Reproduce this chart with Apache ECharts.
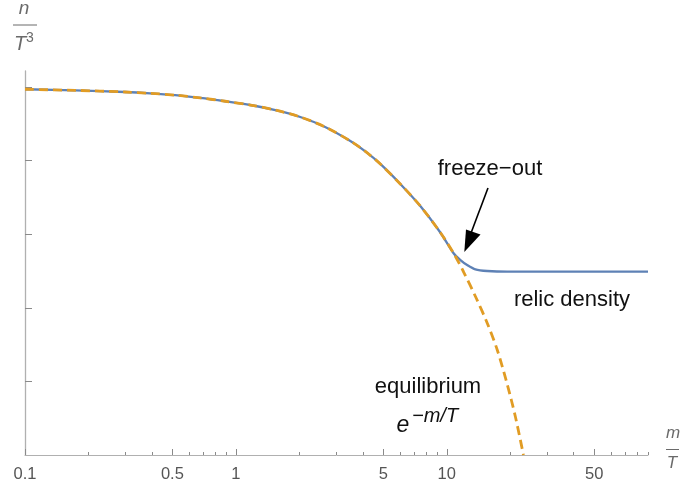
<!DOCTYPE html>
<html>
<head>
<meta charset="utf-8">
<script src="https://cdn.jsdelivr.net/npm/echarts@6/dist/echarts.min.js"></script>
<style>
    html, body { margin: 0; padding: 0; background: #fff; }
    #chart { width: 681px; height: 485px; }
</style>
</head>
<body>
<div id="chart"></div>
<script>
// m/T 取值（对数横轴）
var xEquil = [0.1, 0.173, 0.298, 0.392, 0.515, 0.677, 0.89, 1.17, 1.54, 2.02, 2.65, 3.49, 4.11, 4.84, 6.02, 7.49, 9.32, 10.75, 11.99, 13.82, 15.58, 17.39, 19.39, 21.17, 23.1];
// 平衡分布 n/T^3（纵轴为对数单位）
var yEquil = [4.969, 4.954, 4.932, 4.914, 4.889, 4.852, 4.806, 4.755, 4.685, 4.592, 4.457, 4.266, 4.124, 3.954, 3.682, 3.383, 3.023, 2.745, 2.493, 2.126, 1.787, 1.42, 0.951, 0.516, 0.0];
// 实际数密度（冻结后为残余密度）
var xRelic = [0.1, 0.173, 0.298, 0.392, 0.515, 0.677, 0.89, 1.17, 1.54, 2.02, 2.65, 3.49, 4.11, 4.84, 6.02, 7.49, 9.32, 10.75, 11.61, 12.49, 13.67, 15.54, 19.33, 30, 50, 90];
var yRelic = [4.969, 4.954, 4.932, 4.914, 4.889, 4.852, 4.806, 4.755, 4.685, 4.592, 4.457, 4.266, 4.124, 3.954, 3.682, 3.383, 3.023, 2.745, 2.649, 2.582, 2.523, 2.5, 2.49, 2.49, 2.49, 2.49];
// 刻度
var xMajorTicks = [0.1, 0.5, 1, 5, 10, 50];
var xMinorTicks = [0.2, 0.3, 0.4, 0.6, 0.7, 0.8, 0.9, 2, 3, 4, 6, 7, 8, 9, 20, 30, 40, 60, 70, 80, 90];
var yTicks = [1, 2, 3, 4, 5];

var FONT = "'Liberation Sans', Arial, sans-serif";

function pairs(xs, ys) {
    var out = [];
    for (var i = 0; i < xs.length; i++) {
        out.push([xs[i], ys[i]]);
    }
    return out;
}

var myChart = echarts.init(document.getElementById('chart'), null, { renderer: 'canvas' });

var xBase = {
    type: 'log',
    logBase: 10,
    min: 0.1,
    max: 90,
    position: 'bottom',
    splitLine: { show: false },
    minorTick: { show: false }
};

option = {
    backgroundColor: '#fff',
    animation: false,
    grid: { left: 25, right: 33, top: 71, bottom: 30 },
    xAxis: [
        echarts.util.extend({
            axisLine: { show: true, lineStyle: { color: '#b0b0b0', width: 1 } },
            axisTick: {
                show: true, inside: true, length: 6,
                customValues: xMajorTicks,
                lineStyle: { color: '#8a8a8a', width: 1 }
            },
            axisLabel: {
                show: true,
                customValues: xMajorTicks,
                margin: 11,
                color: '#555',
                fontSize: 16.5,
                fontFamily: FONT,
                formatter: function (v) { return String(v); }
            }
        }, xBase),
        echarts.util.extend({
            axisLine: { show: false },
            axisTick: {
                show: true, inside: true, length: 3,
                customValues: xMinorTicks,
                lineStyle: { color: '#8a8a8a', width: 1 }
            },
            axisLabel: { show: false }
        }, xBase)
    ],
    yAxis: [{
        type: 'value',
        min: 0,
        max: 5.217,
        splitLine: { show: false },
        axisLine: { show: true, lineStyle: { color: '#b0b0b0', width: 1.3 } },
        axisTick: {
            show: true, inside: true, length: 7,
            customValues: yTicks,
            lineStyle: { color: '#8a8a8a', width: 1 }
        },
        axisLabel: { show: false }
    }],
    series: [{
        name: 'relic',
        type: 'line',
        xAxisIndex: 0,
        data: pairs(xRelic, yRelic),
        smooth: 0.3,
        showSymbol: false,
        symbol: 'none',
        lineStyle: { color: '#5e81b5', width: 2.3 }
    }, {
        name: 'equilibrium',
        type: 'line',
        xAxisIndex: 0,
        data: pairs(xEquil, yEquil),
        smooth: 0.3,
        showSymbol: false,
        symbol: 'none',
        lineStyle: { color: '#e19c24', width: 2.8, type: [9, 5] }
    }],
    graphic: [
        // 纵轴标题 n / T^3
        { type: 'text', x: 24, y: 9, style: { text: 'n', font: 'italic 19px ' + FONT, fill: '#6a6a6a', align: 'center', verticalAlign: 'middle' } },
        { type: 'line', shape: { x1: 13, y1: 25, x2: 37, y2: 25 }, style: { stroke: '#6a6a6a', lineWidth: 1 } },
        { type: 'text', x: 20, y: 44, style: { text: 'T', font: 'italic 20px ' + FONT, fill: '#6a6a6a', align: 'center', verticalAlign: 'middle' } },
        { type: 'text', x: 30, y: 38, style: { text: '3', font: '14px ' + FONT, fill: '#6a6a6a', align: 'center', verticalAlign: 'middle' } },
        // 横轴标题 m / T
        { type: 'text', x: 673, y: 433, style: { text: 'm', font: 'italic 17px ' + FONT, fill: '#6a6a6a', align: 'center', verticalAlign: 'middle' } },
        { type: 'line', shape: { x1: 666, y1: 449.5, x2: 679, y2: 449.5 }, style: { stroke: '#6a6a6a', lineWidth: 1 } },
        { type: 'text', x: 672, y: 463, style: { text: 'T', font: 'italic 17px ' + FONT, fill: '#6a6a6a', align: 'center', verticalAlign: 'middle' } },
        // 注释文字
        { type: 'text', x: 490, y: 169, style: { text: 'freeze\u2212out', font: '22px ' + FONT, fill: '#111', align: 'center', verticalAlign: 'middle' } },
        { type: 'text', x: 572, y: 300, style: { text: 'relic density', font: '22px ' + FONT, fill: '#111', align: 'center', verticalAlign: 'middle' } },
        { type: 'text', x: 428, y: 387, style: { text: 'equilibrium', font: '22px ' + FONT, fill: '#111', align: 'center', verticalAlign: 'middle' } },
        { type: 'text', x: 403, y: 426, style: { text: 'e', font: 'italic 23px ' + FONT, fill: '#111', align: 'center', verticalAlign: 'middle' } },
        { type: 'text', x: 412, y: 416, style: { text: '\u2212m/T', font: 'italic 20px ' + FONT, fill: '#111', align: 'left', verticalAlign: 'middle' } },
        // 箭头
        { type: 'line', shape: { x1: 488, y1: 188, x2: 471, y2: 233 }, style: { stroke: '#000', lineWidth: 1.6 } },
        { type: 'polygon', shape: { points: [[464.3, 252], [466, 229.5], [480.5, 234.5]] }, style: { fill: '#000' } }
    ]
};

myChart.setOption(option);
</script>
</body>
</html>
